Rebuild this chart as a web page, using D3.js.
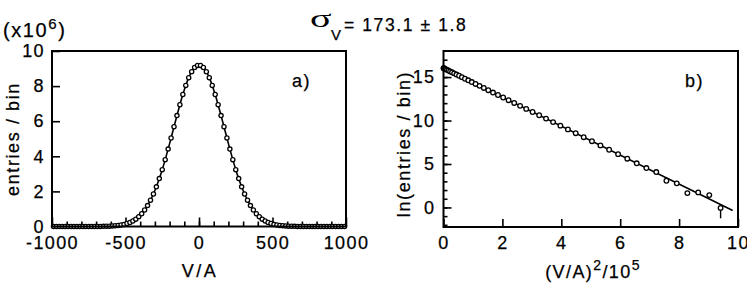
<!DOCTYPE html>
<html>
<head>
<meta charset="utf-8">
<script src="https://cdn.jsdelivr.net/npm/d3@7"></script>
<style>
  body { margin: 0; background: #fff; }
  svg text { font-family: "Liberation Sans", Arial, sans-serif; fill: #000; stroke: #000; stroke-width: 0.25px; }
</style>
</head>
<body>
<div id="chart"></div>
<script>
// panel a) bin centres (V/A) and entries per bin (x10^6)
const binCenters = [
  -990, -970, -950, -930, -910, -890, -870, -850, -830, -810,
  -790, -770, -750, -730, -710, -690, -670, -650, -630, -610,
  -590, -570, -550, -530, -510, -490, -470, -450, -430, -410,
  -390, -370, -350, -330, -310, -290, -270, -250, -230, -210,
  -190, -170, -150, -130, -110, -90, -70, -50, -30, -10,
  10, 30, 50, 70, 90, 110, 130, 150, 170, 190,
  210, 230, 250, 270, 290, 310, 330, 350, 370, 390,
  410, 430, 450, 470, 490, 510, 530, 550, 570, 590,
  610, 630, 650, 670, 690, 710, 730, 750, 770, 790,
  810, 830, 850, 870, 890, 910, 930, 950, 970, 990
];
const entries = [
  0, 0, 0, 0, 0, 0, 0, 0, 0, 0,
  0, 0, 0.001, 0.001, 0.002, 0.003, 0.005, 0.008, 0.012, 0.018,
  0.028, 0.041, 0.059, 0.085, 0.12, 0.17, 0.23, 0.31, 0.42, 0.56,
  0.73, 0.94, 1.19, 1.50, 1.85, 2.26, 2.73, 3.24, 3.81, 4.41,
  5.04, 5.68, 6.32, 6.94, 7.52, 8.04, 8.48, 8.82, 9.06, 9.18,
  9.18, 9.06, 8.82, 8.48, 8.04, 7.52, 6.94, 6.32, 5.68, 5.04,
  4.41, 3.81, 3.24, 2.73, 2.26, 1.85, 1.50, 1.19, 0.94, 0.73,
  0.56, 0.42, 0.31, 0.23, 0.17, 0.12, 0.085, 0.059, 0.041, 0.028,
  0.018, 0.012, 0.008, 0.005, 0.003, 0.002, 0.001, 0.001, 0, 0,
  0, 0, 0, 0, 0, 0, 0, 0, 0, 0
];

// panel b) (V/A)^2/10^5 and ln(entries/bin)
const sqX = [
  0.001, 0.009, 0.025, 0.049, 0.081, 0.121, 0.169, 0.225, 0.289, 0.361,
  0.441, 0.529, 0.625, 0.729, 0.841, 0.961, 1.089, 1.225, 1.369, 1.521,
  1.681, 1.849, 2.025, 2.209, 2.401, 2.601, 2.809, 3.025, 3.249, 3.481,
  3.721, 3.969, 4.225, 4.489, 4.761, 5.041, 5.329, 5.625, 5.929, 6.241,
  6.561, 6.889, 7.225, 7.569, 7.921, 8.281, 8.649, 9.025, 9.409
];
const lnEntries = [
  16.03, 16.01, 15.99, 15.95, 15.89, 15.83, 15.75, 15.65, 15.55, 15.43,
  15.29, 15.15, 14.99, 14.81, 14.63, 14.43, 14.21, 13.99, 13.75, 13.49,
  13.22, 12.94, 12.65, 12.34, 12.02, 11.69, 11.34, 10.98, 10.61, 10.22,
  9.82, 9.41, 8.98, 8.54, 8.08, 7.62, 7.14, 6.64, 6.13, 5.61,
  5.08, 4.53, 4.07, 3.07, 2.77, 1.65, 1.73, 1.42, -0.05
];
const errX = [9.409];
const errLo = [-1.25];
const errHi = [0.15];
const fitX = [0, 9.82];
const fitY = [16.03, -0.36];

const leftTicks = [-1000, -500, 0, 500, 1000];
const leftMinor = d3.range(-900, 1000, 100);
const leftYTicks = [0, 2, 4, 6, 8, 10];
const rightXTicks = [0, 2, 4, 6, 8, 10];
const rightYTicks = [0, 5, 10, 15];
const rightYMinor = d3.range(-2, 18, 1);

const svg = d3.select("#chart").append("svg")
    .attr("width", 747)
    .attr("height", 286);

const FS = "18px";
const LS = "1.4px";
const plain = d => String(d);   // hyphen minus like the original

function styleAxis(g) {
    g.attr("font-family", null).attr("font-size", null);
    g.select(".domain").remove();
    g.selectAll(".tick line").attr("stroke", "#000").attr("stroke-width", 1.6);
    g.selectAll(".tick text").style("font-size", FS).style("letter-spacing", LS);
}

// ---------- panel a) ----------
const xL = d3.scaleLinear().domain([-1000, 1000]).range([52, 346]);
const yL = d3.scaleLinear().domain([0, 10]).range([226.5, 51]);

svg.append("g")
    .attr("transform", "translate(0,226.5)")
    .call(d3.axisBottom(xL).tickValues(leftMinor).tickSize(-5).tickFormat(""))
    .call(styleAxis);
svg.append("g")
    .attr("transform", "translate(0,226.5)")
    .call(d3.axisBottom(xL).tickValues(leftTicks).tickSize(-9).tickPadding(10).tickFormat(plain))
    .call(styleAxis);
svg.append("g")
    .attr("transform", "translate(52,0)")
    .call(d3.axisLeft(yL).tickValues(leftYTicks).tickSize(-8).tickPadding(7))
    .call(styleAxis);

const leftData = binCenters.map((v, i) => [v, entries[i]]);
svg.append("path")
    .datum(leftData)
    .attr("fill", "none")
    .attr("stroke", "#000")
    .attr("stroke-width", 1.6)
    .attr("d", d3.line().x(d => xL(d[0])).y(d => yL(d[1])).curve(d3.curveMonotoneX));

svg.append("g").selectAll("circle")
    .data(leftData)
    .join("circle")
    .attr("cx", d => xL(d[0]))
    .attr("cy", d => yL(d[1]))
    .attr("r", 2.1)
    .attr("fill", "#fff")
    .attr("stroke", "#000")
    .attr("stroke-width", 1.3);

svg.append("rect")
    .attr("x", xL(-1000)).attr("y", yL(10))
    .attr("width", xL(1000) - xL(-1000))
    .attr("height", yL(0) - yL(10))
    .attr("fill", "none").attr("stroke", "#000").attr("stroke-width", 2);

svg.append("text").attr("x", 292).attr("y", 87)
    .style("font-size", FS).style("letter-spacing", LS).text("a)");

svg.append("text").attr("x", 200).attr("y", 277).attr("text-anchor", "middle")
    .style("font-size", FS).style("letter-spacing", "2.5px").text("V/A");

svg.append("text")
    .attr("transform", "translate(19,139) rotate(-90)")
    .attr("text-anchor", "middle")
    .style("font-size", FS).style("letter-spacing", "1.6px")
    .text("entries / bin");

const mult = svg.append("text").attr("x", 3).attr("y", 37)
    .style("font-size", "20px").style("letter-spacing", "1.6px");
mult.append("tspan").text("(x10");
mult.append("tspan").attr("dy", -8).style("font-size", "15px").text("6");
mult.append("tspan").attr("dy", 8).text(")");

// ---------- panel b) ----------
const xR = d3.scaleLinear().domain([0, 10]).range([443.5, 738]);
const yR = d3.scaleLinear().domain([-2.25, 18]).range([227, 51]);

svg.append("g")
    .attr("transform", "translate(0,227)")
    .call(d3.axisBottom(xR).tickValues(rightXTicks).tickSize(-8).tickPadding(9).tickFormat(plain))
    .call(styleAxis);
svg.append("g")
    .attr("transform", "translate(443.5,0)")
    .call(d3.axisLeft(yR).tickValues(rightYMinor).tickSize(-4).tickFormat(""))
    .call(styleAxis);
svg.append("g")
    .attr("transform", "translate(443.5,0)")
    .call(d3.axisLeft(yR).tickValues(rightYTicks).tickSize(-8).tickPadding(8))
    .call(styleAxis);

svg.append("path")
    .datum(fitX.map((x, i) => [x, fitY[i]]))
    .attr("fill", "none")
    .attr("stroke", "#000")
    .attr("stroke-width", 1.6)
    .attr("d", d3.line().x(d => xR(d[0])).y(d => yR(d[1])));

svg.append("g").selectAll("line")
    .data(errX.map((x, i) => [x, errLo[i], errHi[i]]))
    .join("line")
    .attr("x1", d => xR(d[0])).attr("x2", d => xR(d[0]))
    .attr("y1", d => yR(d[1])).attr("y2", d => yR(d[2]))
    .attr("stroke", "#000").attr("stroke-width", 1.4);

svg.append("g").selectAll("circle")
    .data(sqX.map((x, i) => [x, lnEntries[i]]))
    .join("circle")
    .attr("cx", d => xR(d[0]))
    .attr("cy", d => yR(d[1]))
    .attr("r", 2.3)
    .attr("fill", "#fff")
    .attr("stroke", "#000")
    .attr("stroke-width", 1.3);

svg.append("rect")
    .attr("x", xR(0)).attr("y", yR(18))
    .attr("width", xR(10) - xR(0))
    .attr("height", yR(-2.25) - yR(18))
    .attr("fill", "none").attr("stroke", "#000").attr("stroke-width", 2);

svg.append("text").attr("x", 685).attr("y", 87)
    .style("font-size", FS).style("letter-spacing", LS).text("b)");

const xlab = svg.append("text").attr("x", 593).attr("y", 278).attr("text-anchor", "middle")
    .style("font-size", FS).style("letter-spacing", LS);
xlab.append("tspan").text("(V/A)");
xlab.append("tspan").attr("dy", -8).style("font-size", "14px").text("2");
xlab.append("tspan").attr("dy", 8).text("/10");
xlab.append("tspan").attr("dy", -8).style("font-size", "14px").text("5");

svg.append("text")
    .attr("transform", "translate(410,144) rotate(-90)")
    .attr("text-anchor", "middle")
    .style("font-size", FS).style("letter-spacing", "1.6px")
    .text("ln(entries / bin)");

// ---------- title ----------
svg.append("text")
    .attr("transform", "translate(310,27) scale(1.6,1)")
    .style("font-family", "'Liberation Serif', serif")
    .style("font-size", "25px")
    .style("stroke-width", "0px")
    .text("σ");
svg.append("text").attr("x", 331).attr("y", 39.5)
    .style("font-size", "15px").text("V");
svg.append("text").attr("x", 344).attr("y", 31)
    .style("font-size", "17.5px").style("letter-spacing", "1.6px")
    .text("= 173.1 ± 1.8");
</script>
</body>
</html>
